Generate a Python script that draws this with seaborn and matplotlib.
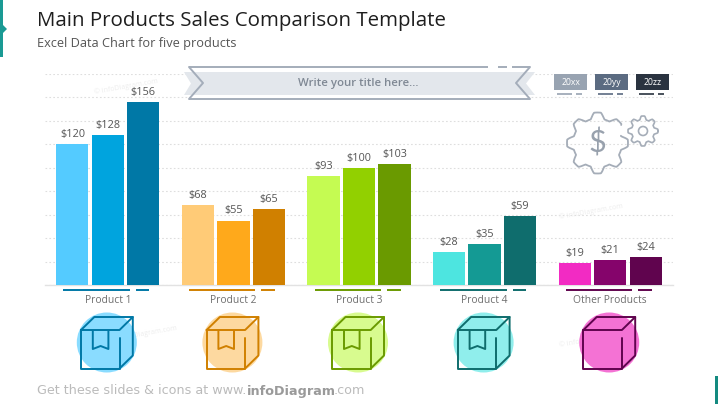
import numpy as np
import pandas as pd
import matplotlib
matplotlib.use("Agg")
import matplotlib.pyplot as plt
from matplotlib.patches import Polygon, Circle, Rectangle
import seaborn as sns

categories = ["Product 1", "Product 2", "Product 3", "Product 4", "Other Products"]
series_names = ["20xx", "20yy", "20zz"]
values_xx = [120, 68, 93, 28, 19]
values_yy = [128, 55, 100, 35, 21]
values_zz = [156, 65, 103, 59, 24]
colors_xx = ["#54CBFF", "#FFCB77", "#C5FB52", "#4DE5E0", "#F22BC3"]
colors_yy = ["#00A4DE", "#FFA91B", "#92D000", "#149A94", "#85046B"]
colors_zz = ["#0078A6", "#D08000", "#6A9A00", "#0F6D6D", "#60044E"]
circle_colors = ["#8ADCFF", "#FDD9A0", "#D8FB8F", "#90EEEC", "#F472D4"]
legend_colors = ["#98A3B1", "#5B6B81", "#2A3340"]

sns.set_theme(style="white")
FONT = "Open Sans"
plt.rcParams["font.family"] = [FONT, "DejaVu Sans"]

W, H = 718, 404
fig = plt.figure(figsize=(W / 100, H / 100), dpi=100, facecolor="white")
ax = fig.add_axes([45 / W, (H - 285) / H, 628 / W, 211 / H])

df = pd.DataFrame({
    "category": categories * 3,
    "series": [s for s in series_names for _ in categories],
    "value": values_xx + values_yy + values_zz,
})
sns.barplot(data=df, x="category", y="value", hue="series", order=categories,
            hue_order=series_names, width=0.846, gap=0.09, legend=False,
            errorbar=None, ax=ax, zorder=3)
for cont, cols in zip(ax.containers, [colors_xx, colors_yy, colors_zz]):
    for bar, c in zip(cont, cols):
        bar.set_facecolor(c)
        bar.set_edgecolor("none")
    ax.bar_label(cont, fmt="${:.0f}", padding=3, fontsize=7.8, color="#555555", zorder=4)

ax.set_xlim(-0.5, 4.5)
ax.set_ylim(0, 180)
ax.set_yticks(range(0, 181, 20))
ax.set_yticklabels([])
ax.set_xlabel("")
ax.set_ylabel("")
ax.set_axisbelow(True)
ax.grid(axis="y", color="#DEDEDE", linestyle=(0, (1.5, 2)), linewidth=0.8)
ax.grid(axis="x", visible=False)
for s in ["top", "left", "right"]:
    ax.spines[s].set_visible(False)
ax.spines["bottom"].set_color("#E2E2E2")
ax.spines["bottom"].set_linewidth(1)
ax.tick_params(axis="x", length=0, pad=7.5, labelsize=7.4, labelcolor="#6E6E6E")
ax.tick_params(axis="y", length=0)
ax.patch.set_alpha(0)

# pixel-space overlay for the slide decoration
ov = fig.add_axes([0, 0, 1, 1], zorder=5)
ov.set_xlim(0, W)
ov.set_ylim(H, 0)
ov.axis("off")
ov.patch.set_alpha(0)


def seg(x0, x1, y0, y1=None, color="#888888", lw=1.0, **kw):
    ov.plot([x0, x1], [y0, y0 if y1 is None else y1], color=color, lw=lw,
            solid_capstyle="butt", **kw)


# corner marks
ov.add_patch(Polygon([(0, 0), (3, 0), (3, 25), (7, 29), (3, 33), (3, 57), (0, 57)],
                     fc="#1A9A94", ec="none"))
ov.add_patch(Rectangle((715, 376), 3, 28, fc="#138A80", ec="none"))

# titles
ov.text(37, 21, "Main Products Sales Comparison Template", fontsize=14.75,
        color="#1E1E1E", va="center", ha="left")
ov.text(37, 43, "Excel Data Chart for five products", fontsize=9.2,
        color="#555555", va="center", ha="left")

# ribbon
ov.add_patch(Polygon([(189, 67), (530, 67), (516, 83), (530, 99), (189, 99), (203, 83)],
                     fc="white", ec="none"))
ov.add_patch(Polygon([(184, 72), (535, 72), (526, 83.5), (535, 95), (184, 95), (191, 83.5)],
                     fc="#E3E7EC", ec="none"))
rib = "#A4ADBA"
seg(189, 488, 67, color=rib, lw=1.4)
seg(498, 507, 67, color=rib, lw=1.4)
seg(512, 530, 67, color=rib, lw=1.4)
seg(189, 530, 99, color=rib, lw=1.4)
ov.plot([189, 203, 189], [67, 83, 99], color=rib, lw=1.4)
ov.plot([530, 516, 530], [67, 83, 99], color=rib, lw=1.4)
ov.text(358, 83.5, "Write your title here...", fontsize=8.2, color="#7F8894",
        ha="center", va="center", fontweight="semibold")

# legend chips
chip_x = [554, 595, 636]
for x, c, name in zip(chip_x, legend_colors, series_names):
    ov.add_patch(Rectangle((x, 74), 33, 16, fc=c, ec="none"))
    ov.text(x + 16.5, 82.5, name, fontsize=6.2, color="white", ha="center", va="center")
    seg(x + 3, x + 18, 93.5, color=c, lw=1.2)
    seg(x + 22, x + 28, 93.5, color=c, lw=1.2)


# gears
def gear(cx, cy, r_in, r_out, teeth, lw, start=0.0, stop=2 * np.pi):
    th = np.linspace(start, stop, 500)
    wave = np.clip(1.6 * np.cos(teeth * th), -1, 1)
    r = r_in + (r_out - r_in) * (wave + 1) / 2
    ov.plot(cx + r * np.cos(th), cy + r * np.sin(th), color="#A5ADB8", lw=lw)


gear(597.5, 143, 24.5, 30.5, 8, 1.3, start=-0.3, stop=2 * np.pi - 0.65)
gear(643, 131, 11.5, 15, 8, 1.2)
ov.add_patch(Circle((643, 131), 4.5, fc="none", ec="#A5ADB8", lw=1.2))
ov.text(597, 143, "$", fontsize=22, color="#98A1AD", ha="center", va="center",
        family="Lato")

# per-category dashes, circles and box icons
centers = [ax.transData.transform((i, 0))[0] for i in range(len(categories))]
for i, cx in enumerate(centers):
    dark = colors_zz[i]
    seg(cx - 44.5, cx + 22, 289.5, color=dark, lw=1.4)
    seg(cx + 28, cx + 41.5, 289.5, color=dark, lw=1.4)
    cy = 342.5
    ov.add_patch(Circle((cx - 1, cy), 30, fc=circle_colors[i], ec="none"))
    l, r, t, b = cx - 26.8, cx + 11.7, 330, 368.5
    dx, dy = 13.3, -13
    lw = 1.4
    ov.plot([l, l + dx, r + dx, r, l], [t, t + dy, t + dy, t, t], color=dark, lw=lw)
    ov.plot([r + dx, r + dx, r], [t + dy, b + dy, b], color=dark, lw=lw)
    ov.plot([l, l, r, r], [t, b, b, 338], color=dark, lw=lw)
    if i < 4:
        ov.plot([cx - 15, cx - 15, cx - 7.2, cx + 0.6, cx + 0.6],
                [331, 349, 346, 349, 331], color=dark, lw=lw)

# faint watermarks
for x, y in [(126, 87), (591, 212), (145, 334), (591, 340)]:
    ov.text(x, y, "© infoDiagram.com", fontsize=5, color="#EDEDED", rotation=10,
            ha="center", va="center", zorder=0)

# footer
t1 = ov.text(37, 391, "Get these slides & icons at www.", fontsize=9.15, color="#BBBBBB",
             va="center", ha="left", family="DejaVu Sans")
t2 = ov.annotate("infoDiagram", xy=(1, 0.5), xycoords=t1, va="center", ha="left",
                 fontsize=9.15, color="#9A9A9A", fontweight="bold", family="DejaVu Sans")
ov.annotate(".com", xy=(1, 0.5), xycoords=t2, xytext=(-1.5, 0), textcoords="offset points",
            va="center", ha="left", fontsize=9.15, color="#BBBBBB", family="DejaVu Sans")

fig.savefig("out.png", dpi=100)
